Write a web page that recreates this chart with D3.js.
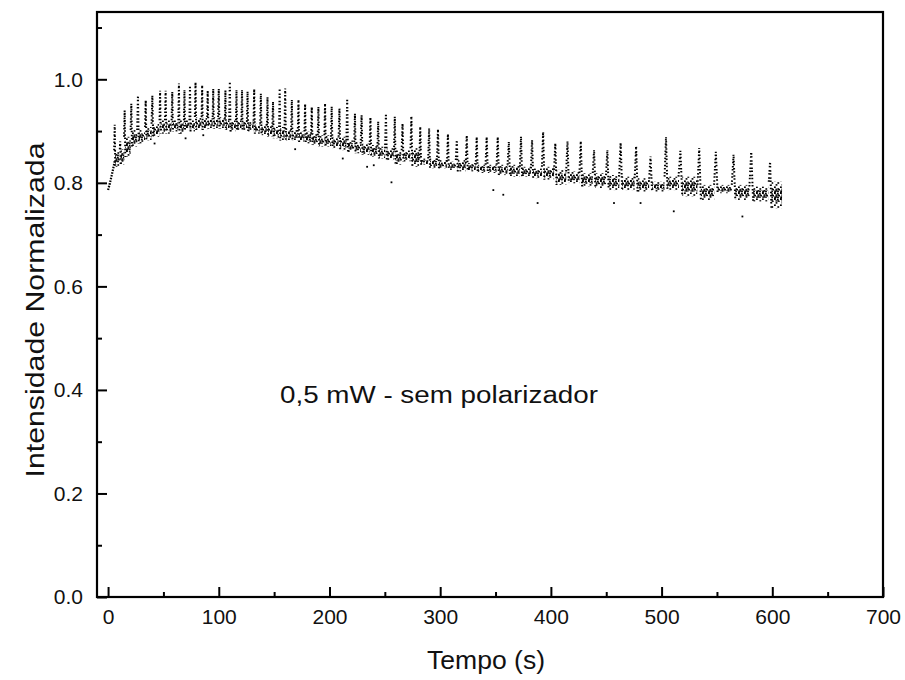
<html>
<head>
  <style>
    body { margin: 0; background: #fff; }
    text { font-family: "Liberation Sans", Arial, sans-serif; fill: #111; }
  </style>
</head>
<body>
<div id="mydiv"></div>
<script src="https://cdn.jsdelivr.net/npm/d3@7/dist/d3.min.js"></script>
<script>

// start of the run (t, value) before the first oscillation
var startT = [0, 1.5, 3, 4.5, 6];
var startV = [0.786, 0.798, 0.812, 0.826, 0.842];

// one entry per oscillation: peak time, peak value, top and bottom of the dense band after it
var cycT = [6, 11, 15, 21, 27, 34, 40, 47, 52, 58,
  64, 69, 74, 79, 85, 90, 95, 100, 106, 110,
  116, 121, 126, 132, 138, 144, 149, 155, 160, 166,
  172, 178, 184, 190, 196, 202, 209, 216, 223, 229,
  237, 244, 251, 259, 266, 274, 282, 290, 298, 307,
  315, 324, 333, 342, 352, 362, 373, 383, 393, 404,
  415, 427, 439, 451, 463, 477, 490, 504, 517, 534,
  549, 565, 581, 598];
var cycTop = [0.912, 0.880, 0.940, 0.953, 0.969, 0.960, 0.969, 0.978, 0.978, 0.976,
  0.992, 0.979, 0.988, 0.995, 0.988, 0.979, 0.982, 0.982, 0.979, 0.995,
  0.979, 0.979, 0.976, 0.982, 0.972, 0.966, 0.956, 0.982, 0.982, 0.960,
  0.960, 0.953, 0.947, 0.947, 0.953, 0.947, 0.944, 0.963, 0.934, 0.931,
  0.927, 0.918, 0.934, 0.928, 0.915, 0.928, 0.908, 0.905, 0.903, 0.895,
  0.883, 0.892, 0.889, 0.889, 0.889, 0.879, 0.889, 0.883, 0.899, 0.877,
  0.880, 0.880, 0.863, 0.863, 0.878, 0.870, 0.851, 0.888, 0.862, 0.867,
  0.860, 0.854, 0.860, 0.841];
var cycHi = [0.863, 0.865, 0.889, 0.902, 0.902, 0.908, 0.914, 0.921, 0.921, 0.921,
  0.921, 0.921, 0.921, 0.927, 0.927, 0.927, 0.927, 0.927, 0.924, 0.921,
  0.921, 0.921, 0.918, 0.914, 0.914, 0.911, 0.908, 0.908, 0.905, 0.902,
  0.899, 0.899, 0.895, 0.892, 0.892, 0.889, 0.889, 0.882, 0.879, 0.876,
  0.873, 0.870, 0.867, 0.863, 0.863, 0.867, 0.847, 0.847, 0.844, 0.841,
  0.844, 0.838, 0.835, 0.835, 0.835, 0.835, 0.831, 0.828, 0.831, 0.825,
  0.822, 0.819, 0.819, 0.815, 0.812, 0.809, 0.802, 0.812, 0.812, 0.796,
  0.796, 0.796, 0.793, 0.802];
var cycLo = [0.831, 0.835, 0.850, 0.870, 0.876, 0.882, 0.889, 0.895, 0.895, 0.899,
  0.895, 0.902, 0.899, 0.902, 0.902, 0.905, 0.905, 0.905, 0.902, 0.899,
  0.902, 0.902, 0.899, 0.895, 0.892, 0.889, 0.886, 0.882, 0.882, 0.882,
  0.879, 0.876, 0.873, 0.870, 0.870, 0.867, 0.863, 0.860, 0.857, 0.854,
  0.850, 0.847, 0.844, 0.835, 0.841, 0.831, 0.835, 0.828, 0.828, 0.825,
  0.822, 0.822, 0.819, 0.819, 0.815, 0.812, 0.812, 0.809, 0.806, 0.796,
  0.799, 0.793, 0.790, 0.786, 0.786, 0.783, 0.783, 0.786, 0.774, 0.767,
  0.780, 0.767, 0.764, 0.751];
var endT = 610;

// stray single points
var outT = [42, 70, 86, 169, 212, 234, 240, 256, 348, 357, 388, 457, 481, 511, 573];
var outV = [0.876, 0.886, 0.892, 0.865, 0.847, 0.831, 0.834, 0.801, 0.786, 0.777, 0.761, 0.761, 0.761, 0.745, 0.735];

var xMajor = [0, 100, 200, 300, 400, 500, 600, 700];
var xMinor = [50, 150, 250, 350, 450, 550, 650];
var yMajor = [0.0, 0.2, 0.4, 0.6, 0.8, 1.0];
var yMinor = [0.1, 0.3, 0.5, 0.7, 0.9, 1.1];

var xTitle = "Tempo (s)";
var yTitle = "Intensidade Normalizada";
var note = "0,5 mW - sem polarizador";

let width = 905, height = 680;
let plot = {left: 97, right: 883, top: 12, bottom: 597};

let svg = d3.select("#mydiv")
  .append("svg")
  .attr("width", width)
  .attr("height", height);

let x = d3.scaleLinear().domain([-10, 700]).range([plot.left, plot.right]);
let y = d3.scaleLinear().domain([0, 1.13]).range([plot.bottom, plot.top]);

// dotted textures for the bands: a light one for the edges, a dense one for the core
let defs = svg.append("defs");
function dotPattern(id, pts) {
  let p = defs.append("pattern")
    .attr("id", id)
    .attr("patternUnits", "userSpaceOnUse")
    .attr("width", 6)
    .attr("height", 6);
  pts.forEach(function (d) {
    p.append("rect")
      .attr("x", d[0]).attr("y", d[1])
      .attr("width", 1.8).attr("height", 1.6)
      .attr("fill", "#000");
  });
}
dotPattern("dotsLight", [[0, 0.4], [3.4, 2.2], [1.6, 4.1]]);
dotPattern("dotsDense", [[0, 0], [2.9, 0.6], [1.4, 2.3], [4.3, 2.9], [0.2, 4.4], [3.1, 4.6]]);

let data = svg.append("g").attr("id", "data");

let line = d3.line().x(d => x(d[0])).y(d => y(d[1]));

// start ramp
data.append("path")
  .attr("d", line(startT.map((t, i) => [t, startV[i]])))
  .attr("fill", "none")
  .attr("stroke", "#000")
  .attr("stroke-width", 2.2)
  .attr("stroke-dasharray", "1.6 1.2");

cycT.forEach(function (t, i) {
  let next = i < cycT.length - 1 ? cycT[i + 1] : endT;
  let w = 0.1 * (next - t);
  let x0 = x(t + w), x1 = x(next - w);
  let yHi = y(cycHi[i]), yLo = y(cycLo[i]);
  let inset = (yLo - yHi) * 0.25;

  // band of dots between this peak and the next one
  data.append("rect")
    .attr("x", x0)
    .attr("y", yHi)
    .attr("width", Math.max(0, x1 - x0))
    .attr("height", yLo - yHi)
    .attr("fill", "url(#dotsLight)");
  data.append("rect")
    .attr("x", x0)
    .attr("y", yHi + inset)
    .attr("width", Math.max(0, x1 - x0))
    .attr("height", yLo - yHi - 2 * inset)
    .attr("fill", "url(#dotsDense)");

  // the spike up to the peak
  data.append("path")
    .attr("d", line([[t - w, cycHi[i]], [t, cycTop[i]], [t + w, cycLo[i]]]))
    .attr("fill", "none")
    .attr("stroke", "#000")
    .attr("stroke-width", 2)
    .attr("stroke-dasharray", "1.5 1.6 1.5 2.6");
});

data.selectAll("rect.out")
  .data(outT)
  .enter()
  .append("rect")
  .attr("class", "out")
  .attr("x", (d, i) => x(d) - 0.9)
  .attr("y", (d, i) => y(outV[i]) - 0.9)
  .attr("width", 1.8)
  .attr("height", 1.8)
  .attr("fill", "#000");

// axes, ticks point inwards
function styleAxis(g) {
  g.select(".domain").remove();
  g.selectAll("line").attr("stroke", "#000").attr("stroke-width", 2);
  g.selectAll("text")
    .style("font-size", "21px")
    .style("font-family", '"Liberation Sans", Arial, sans-serif')
    .attr("fill", "#111");
}

svg.append("g")
  .attr("transform", "translate(0," + plot.bottom + ")")
  .call(d3.axisBottom(x).tickValues(xMajor).tickSizeInner(-10).tickSizeOuter(0)
    .tickPadding(12).tickFormat(d3.format("d")))
  .call(styleAxis);
svg.append("g")
  .attr("transform", "translate(0," + plot.bottom + ")")
  .call(d3.axisBottom(x).tickValues(xMinor).tickSizeInner(-5).tickSizeOuter(0).tickFormat(""))
  .call(styleAxis);
svg.append("g")
  .attr("transform", "translate(" + plot.left + ",0)")
  .call(d3.axisLeft(y).tickValues(yMajor).tickSizeInner(-10).tickSizeOuter(0)
    .tickPadding(14).tickFormat(d3.format(".1f")))
  .call(styleAxis);
svg.append("g")
  .attr("transform", "translate(" + plot.left + ",0)")
  .call(d3.axisLeft(y).tickValues(yMinor).tickSizeInner(-5).tickSizeOuter(0).tickFormat(""))
  .call(styleAxis);

svg.append("rect")
  .attr("x", plot.left)
  .attr("y", plot.top)
  .attr("width", plot.right - plot.left)
  .attr("height", plot.bottom - plot.top)
  .attr("fill", "none")
  .attr("stroke", "#000")
  .attr("stroke-width", 2.2);

svg.append("text")
  .attr("x", 486)
  .attr("y", 669)
  .attr("text-anchor", "middle")
  .style("font-size", "26px")
  .attr("textLength", 118)
  .attr("lengthAdjust", "spacingAndGlyphs")
  .text(xTitle);

svg.append("text")
  .attr("transform", "translate(44,310) rotate(-90)")
  .attr("text-anchor", "middle")
  .style("font-size", "26px")
  .attr("textLength", 335)
  .attr("lengthAdjust", "spacingAndGlyphs")
  .text(yTitle);

svg.append("text")
  .attr("x", 280)
  .attr("y", 403)
  .style("font-size", "23px")
  .attr("textLength", 318)
  .attr("lengthAdjust", "spacingAndGlyphs")
  .text(note);

</script>
</body>
</html>
